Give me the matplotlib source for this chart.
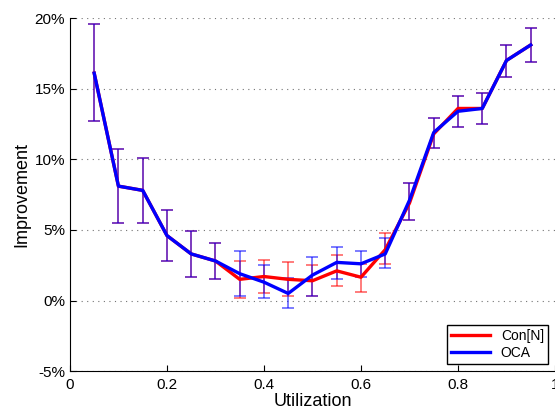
import matplotlib.pyplot as plt
from matplotlib.ticker import FuncFormatter

plt.rcParams['font.family'] = ['Liberation Sans', 'DejaVu Sans']

# 利用率
util = [0.05, 0.10, 0.15, 0.20, 0.25, 0.30, 0.35, 0.40, 0.45, 0.50,
        0.55, 0.60, 0.65, 0.70, 0.75, 0.80, 0.85, 0.90, 0.95]

# Con[N] 改进 (%) 及误差范围
con_mean = [16.1, 8.1, 7.8, 4.6, 3.3, 2.8, 1.5, 1.7, 1.5, 1.4,
            2.1, 1.65, 3.6, 6.9, 11.8, 13.6, 13.6, 17.0, 18.1]
con_low = [12.7, 5.5, 5.5, 2.8, 1.7, 1.5, 0.15, 0.5, 0.3, 0.35,
           1.06, 0.6, 2.6, 5.7, 10.8, 12.3, 12.5, 15.8, 16.9]
con_high = [19.6, 10.7, 10.1, 6.4, 4.9, 4.1, 2.8, 2.9, 2.7, 2.5,
            3.2, 2.6, 4.8, 8.3, 12.9, 14.5, 14.7, 18.1, 19.3]

# OCA 改进 (%) 及误差范围
oca_mean = [16.1, 8.1, 7.8, 4.6, 3.3, 2.8, 1.9, 1.3, 0.5, 1.8,
            2.7, 2.6, 3.3, 7.1, 11.9, 13.4, 13.6, 17.0, 18.1]
oca_low = [12.7, 5.5, 5.5, 2.8, 1.7, 1.5, 0.35, 0.2, -0.55, 0.35,
           1.5, 1.65, 2.3, 5.7, 10.8, 12.3, 12.5, 15.8, 16.9]
oca_high = [19.6, 10.7, 10.1, 6.4, 4.9, 4.1, 3.5, 2.5, 1.6, 3.1,
            3.8, 3.5, 4.4, 8.3, 12.9, 14.5, 14.7, 18.1, 19.3]

fig = plt.figure(figsize=(5.55, 4.11), dpi=100)
ax = fig.add_axes([0.126, 0.097, 0.874, 0.859])

series = [('Con[N]', con_mean, con_low, con_high, (1, 0, 0)),
          ('OCA', oca_mean, oca_low, oca_high, (0, 0, 1))]
for name, m, lo, hi, c in series:
    err = [[a - b for a, b in zip(m, lo)], [b - a for a, b in zip(m, hi)]]
    ax.errorbar(util, m, yerr=err, fmt='none', ecolor=c, alpha=0.6,
                elinewidth=1.2, capsize=4.3, capthick=1.2)
for name, m, lo, hi, c in series:
    ax.plot(util, m, color=c, lw=2.4, label=name)

ax.set_xlim(0, 1)
ax.set_ylim(-5, 20)
ax.set_xticks([0, 0.2, 0.4, 0.6, 0.8, 1])
ax.set_xticklabels(['0', '0.2', '0.4', '0.6', '0.8', '1'])
ax.set_yticks([-5, 0, 5, 10, 15, 20])
ax.yaxis.set_major_formatter(FuncFormatter(lambda v, p: '%d%%' % v))
ax.tick_params(direction='in', length=4, labelsize=11, width=0.8)
ax.tick_params(axis='x', pad=5)
ax.yaxis.grid(True, linestyle=(0, (1, 4)), color='0.45', lw=0.8)
ax.spines['top'].set_visible(False)
ax.spines['right'].set_visible(False)
ax.set_xlabel('Utilization', fontsize=13, labelpad=1)
ax.set_ylabel('Improvement', fontsize=13, labelpad=3)

leg = ax.legend(loc='lower right', fontsize=10, fancybox=False,
                edgecolor='black', framealpha=1, borderaxespad=0.5,
                handlelength=2.8, borderpad=0.3, labelspacing=0.2)
leg.get_frame().set_linewidth(1.0)

plt.savefig('out.png', dpi=100)
